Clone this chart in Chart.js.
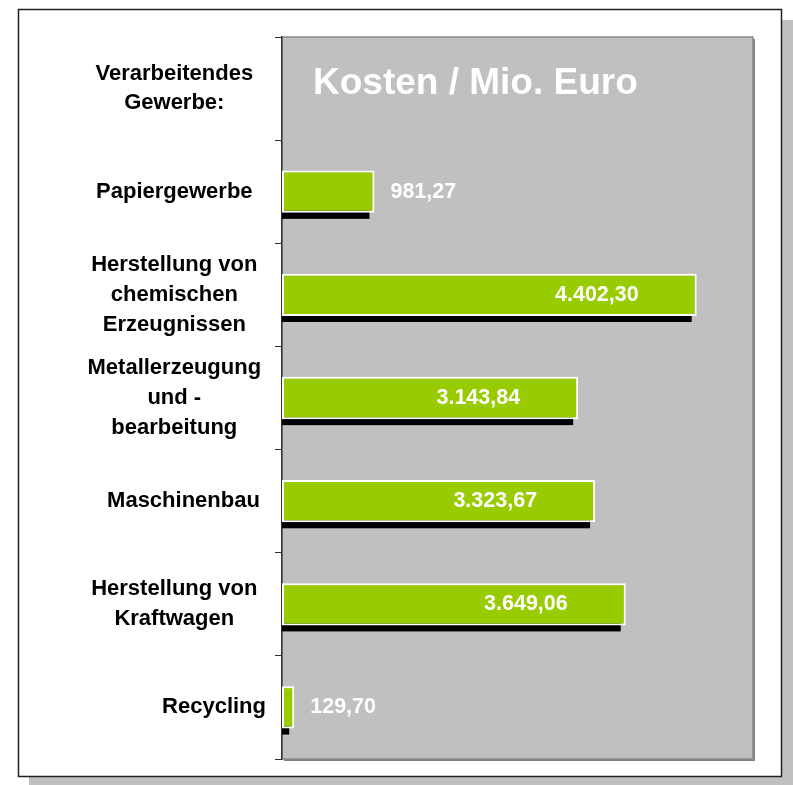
<!DOCTYPE html>
<html>
<head>
<meta charset="utf-8">
<style>
  html, body { margin: 0; padding: 0; background: #fff; overflow: hidden; }
  #wrap { width: 793px; height: 785px; position: relative; }
</style>
<script src="https://cdn.jsdelivr.net/npm/chart.js@4.4.1/dist/chart.umd.min.js"></script>
</head>
<body>
<div id="wrap"><canvas id="kostenChart"></canvas></div>
<script>
'use strict';

// ---- data ----
const categories = [
  ['Verarbeitendes', 'Gewerbe:'],
  'Papiergewerbe',
  ['Herstellung von', 'chemischen', 'Erzeugnissen'],
  ['Metallerzeugung', 'und -', 'bearbeitung'],
  '   Maschinenbau',
  ['Herstellung von', 'Kraftwagen'],
  '             Recycling'
];
const kosten = [null, 981.27, 4402.30, 3143.84, 3323.67, 3649.06, 129.70];
const axisMin = 0;
const axisMax = 5000;
const chartTitle = 'Kosten / Mio. Euro';

const FONT = '"Liberation Sans", Arial, sans-serif';

function formatDE(v) {
  const [int, dec] = v.toFixed(2).split('.');
  return int.replace(/\B(?=(\d{3})+(?!\d))/g, '.') + ',' + dec;
}

// frame, plot background, bar shadows, value labels, title
const decorPlugin = {
  id: 'decor',
  beforeDraw(chart) {
    const { ctx, chartArea: a, width, height } = chart;
    ctx.save();
    // outer box with shadow
    ctx.fillStyle = '#c0c0c0';
    ctx.fillRect(29, 20, width - 29, height - 20);
    ctx.fillStyle = '#ffffff';
    ctx.fillRect(18, 9, 763, 767);
    ctx.strokeStyle = '#222';
    ctx.lineWidth = 1.5;
    ctx.strokeRect(18.5, 9.5, 763, 767);
    // plot area
    ctx.fillStyle = '#808080';
    ctx.fillRect(a.left + 2, a.top + 2, a.width, a.height);
    ctx.fillStyle = '#c0c0c0';
    ctx.fillRect(a.left, a.top, a.width, a.height);
    ctx.strokeStyle = '#8a8a8a';
    ctx.lineWidth = 1.5;
    ctx.strokeRect(a.left, a.top, a.width, a.height);
    ctx.restore();
  },
  beforeDatasetsDraw(chart) {
    const { ctx, chartArea: a } = chart;
    const meta = chart.getDatasetMeta(0);
    ctx.save();
    ctx.beginPath();
    ctx.rect(a.left, a.top, a.width, a.height);
    ctx.clip();
    ctx.fillStyle = '#000';
    meta.data.forEach((bar, i) => {
      if (kosten[i] == null) return;
      const top = bar.y - bar.height / 2 + 6;
      ctx.fillRect(bar.base, top, bar.x - 5 - bar.base, bar.height);
    });
    ctx.restore();
  },
  afterDatasetsDraw(chart) {
    const { ctx, chartArea: a } = chart;
    const meta = chart.getDatasetMeta(0);
    ctx.save();
    ctx.fillStyle = '#ffffff';
    ctx.textBaseline = 'middle';
    ctx.font = 'bold 21.5px ' + FONT;
    meta.data.forEach((bar, i) => {
      const v = kosten[i];
      if (v == null) return;
      const txt = formatDE(v);
      if (v < 2000) {
        ctx.textAlign = 'left';
        ctx.fillText(txt, bar.x + 16, bar.y);
      } else {
        ctx.textAlign = 'right';
        ctx.fillText(txt, bar.x - 58, bar.y);
      }
    });
    // title inside the plot area
    ctx.font = 'bold 37px ' + FONT;
    ctx.textAlign = 'left';
    ctx.fillText(chartTitle, a.left + 31, a.top + 47);
    ctx.restore();
  }
};

new Chart(document.getElementById('kostenChart'), {
  type: 'bar',
  data: {
    labels: categories,
    datasets: [{
      data: kosten,
      backgroundColor: '#99cc00',
      borderColor: '#ffffff',
      borderWidth: 2,
      borderSkipped: false,
      barPercentage: 0.41,
      categoryPercentage: 1
    }]
  },
  options: {
    indexAxis: 'y',
    responsive: true,
    maintainAspectRatio: false,
    animation: false,
    layout: { padding: { left: 20, top: 37, right: 40, bottom: 26 } },
    plugins: {
      legend: { display: false },
      tooltip: { enabled: false }
    },
    scales: {
      x: { display: false, min: axisMin, max: axisMax },
      y: {
        afterFit(scale) {
          scale.width = 262;
          scale.paddingTop = 0;
          scale.paddingBottom = 0;
        },
        grid: { offset: true, drawOnChartArea: false, drawTicks: true, tickLength: 7, color: '#333', lineWidth: 1 },
        border: { display: true, color: '#333', width: 1.5 },
        ticks: {
          autoSkip: false,
          color: '#000',
          crossAlign: 'center',
          padding: 9,
          font: { family: FONT, size: 22, weight: 'bold', lineHeight: 1.35 }
        }
      }
    }
  },
  plugins: [decorPlugin]
});
</script>
</body>
</html>
